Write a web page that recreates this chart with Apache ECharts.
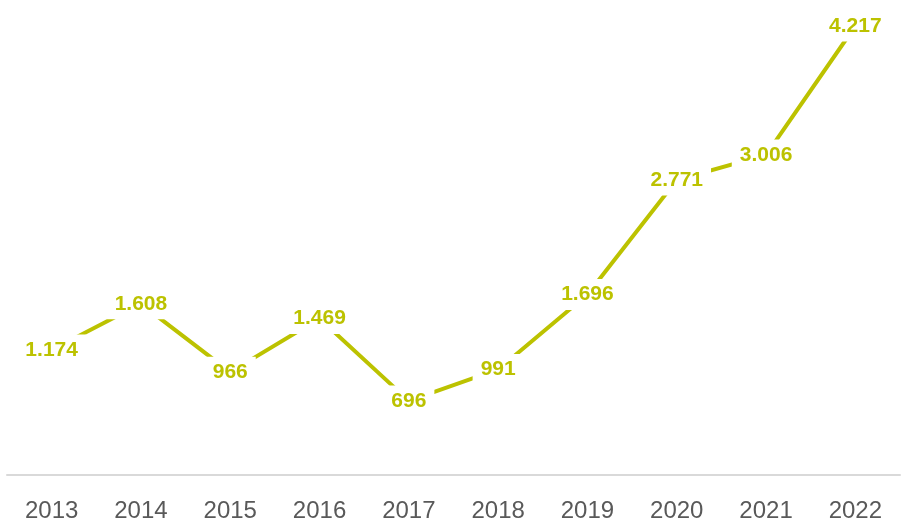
<!DOCTYPE html>
<html>
<head>
<meta charset="utf-8">
<script src="https://cdn.jsdelivr.net/npm/echarts@6/dist/echarts.min.js"></script>
<style>
  html, body { margin: 0; padding: 0; background: #fff; }
  #chart { width: 901px; height: 518px; }
</style>
</head>
<body>
<div id="chart"></div>
<script>
// Jahre und Werte
var years = ['2013', '2014', '2015', '2016', '2017', '2018', '2019', '2020', '2021', '2022'];
var values = [1174, 1608, 966, 1469, 696, 991, 1696, 2771, 3006, 4217];

var mainColor = '#bcc200';

var myChart = echarts.init(document.getElementById('chart'));

// Tausenderpunkt wie im Original
function fmt(v) {
    return String(v).replace(/\B(?=(\d{3})+(?!\d))/g, '.');
}

var option = {
    animation: false,
    grid: { left: 7, right: 1, top: 26, bottom: 43, outerBoundsMode: 'none' },
    xAxis: {
        type: 'category',
        data: years,
        boundaryGap: true,
        axisLine: { lineStyle: { color: '#d9d9d9', width: 2 } },
        axisTick: { show: false },
        axisLabel: {
            color: '#595959',
            fontSize: 24,
            fontFamily: 'Liberation Sans, Arial, sans-serif',
            margin: 24
        }
    },
    yAxis: {
        type: 'value',
        min: 0,
        max: 4217,
        show: false,
        splitLine: { show: false }
    },
    series: [{
        type: 'line',
        data: values,
        symbol: 'circle',
        symbolSize: 1,
        itemStyle: { color: mainColor },
        lineStyle: { color: mainColor, width: 4 },
        label: {
            show: true,
            position: 'inside',
            color: mainColor,
            fontSize: 21,
            fontWeight: 'bold',
            fontFamily: 'Liberation Sans, Arial, sans-serif',
            backgroundColor: '#fff',
            padding: [5, 8],
            formatter: function (p) { return fmt(p.value); }
        }
    }]
};

myChart.setOption(option);
</script>
</body>
</html>
